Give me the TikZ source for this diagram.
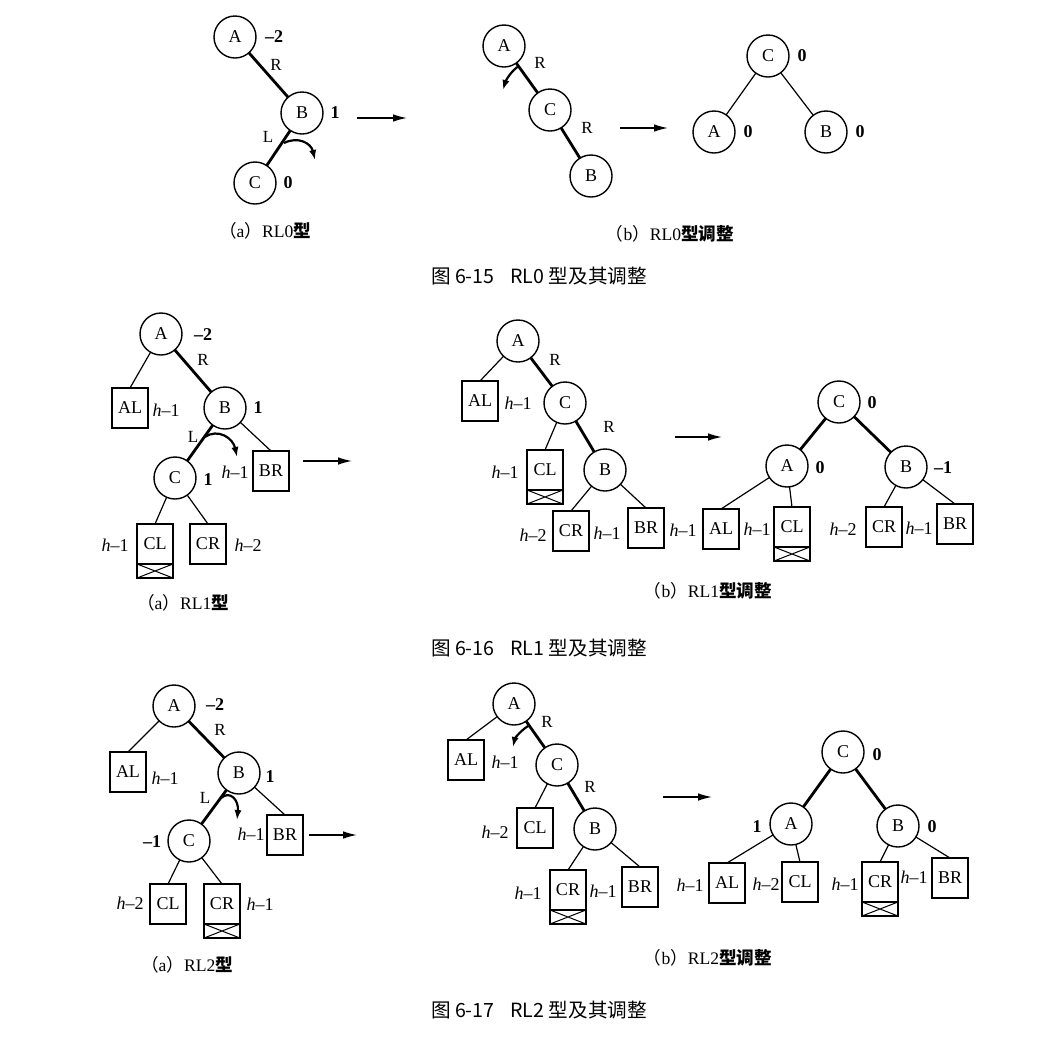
\documentclass[tikz,border=0pt]{standalone}
\usepackage{fontspec}
\setmainfont{Liberation Serif}
\newfontfamily\cjk{Noto Sans CJK SC}
\usetikzlibrary{positioning}
\usetikzlibrary{arrows.meta}
\usetikzlibrary{calc}

\tikzset{
  vtx/.style={circle, draw, line width=0.7pt, minimum size=21pt, inner sep=0pt, outer sep=0pt, font=\fontsize{9}{10}\selectfont},
  sub/.style={rectangle, draw, line width=0.7pt, minimum width=18pt, minimum height=20pt, inner sep=0pt, outer sep=0pt, font=\fontsize{9}{10}\selectfont},
  xbox/.style={rectangle, draw, line width=0.9pt, minimum width=18pt, minimum height=7pt, inner sep=0pt, outer sep=0pt,
    path picture={\draw[line width=0.5pt] (path picture bounding box.north west) -- (path picture bounding box.south east)
      (path picture bounding box.south west) -- (path picture bounding box.north east);}},
  bal/.style={font=\fontsize{9}{10}\selectfont\bfseries, inner sep=0pt},
  hgt/.style={font=\fontsize{9}{10}\selectfont, inner sep=0pt},
  dir/.style={font=\fontsize{8.5}{10}\selectfont, inner sep=0pt},
  link/.style={line width=0.6pt},
  heavy/.style={line width=1.4pt},
  turn/.style={line width=1.1pt, -{Latex[length=5pt,width=3.6pt]}},
  goon/.style={line width=0.7pt, -{Latex[length=7pt,width=3.8pt]}},
  subcap/.style={font=\fontsize{8.8}{10}\selectfont},
  figcap/.style={font=\cjk\fontsize{9.8}{11}\selectfont},
}
\newcommand\hm[1]{\textit{h}--#1}

\begin{document}
\begin{tikzpicture}[x=0.5pt,y=-0.5pt]
\useasboundingbox (0,0) rectangle (1044,1045);

% ---- figure 6-15 : RL0 ----
\node[vtx] (r0aA) at (235,37) {A};
\node[vtx] (r0aB) at (302,113) {B};
\node[vtx] (r0aC) at (255,183) {C};
\node[bal] (r0aAf) at (274,37) {--2};
\node[bal] (r0aBf) at (335,113) {1};
\node[bal] (r0aCf) at (288,183) {0};
\node[dir] (r0aR) at (276,65) {R};
\node[dir] (r0aL) at (268,137) {L};
\draw[heavy] (r0aA) -- (r0aB);
\draw[heavy] (r0aB) -- (r0aC);
\coordinate (r0aT1) at (284,143);
\coordinate (r0aT2) at (315,160);
\draw[turn] (r0aT1) .. controls (298,136) and (311,143) .. (r0aT2);
\coordinate (r0go1) at (357,118);
\coordinate (r0go2) at (407,118);
\draw[goon] (r0go1) -- (r0go2);
\node[subcap] (r0acap) at (265,231) {{\cjk （}a{\cjk ）}RL0{\cjk\bfseries 型}};

\node[vtx] (r0bA) at (504,46) {A};
\node[vtx] (r0bC) at (550,110) {C};
\node[vtx] (r0bB) at (591,176) {B};
\node[dir] (r0bR1) at (540,63) {R};
\node[dir] (r0bR2) at (587,128) {R};
\draw[heavy] (r0bA) -- (r0bC);
\draw[heavy] (r0bC) -- (r0bB);
\coordinate (r0bT1) at (519,66);
\coordinate (r0bT2) at (503,90);
\draw[turn] (r0bT1) .. controls (512,70) and (506,80) .. (r0bT2);
\coordinate (r0go3) at (620,128);
\coordinate (r0go4) at (668,128);
\draw[goon] (r0go3) -- (r0go4);

\node[vtx] (r0cC) at (768,56) {C};
\node[vtx] (r0cA) at (714,132) {A};
\node[vtx] (r0cB) at (826,132) {B};
\node[bal] (r0cCf) at (802,56) {0};
\node[bal] (r0cAf) at (748,132) {0};
\node[bal] (r0cBf) at (860,132) {0};
\draw[link] (r0cC) -- (r0cA);
\draw[link] (r0cC) -- (r0cB);
\node[subcap] (r0bcap) at (670,234) {{\cjk （}b{\cjk ）}RL0{\cjk\bfseries 型调整}};
\node[figcap] (r0fig) at (539,276) {图 6-15\hspace{8pt}RL0 型及其调整};

% ---- figure 6-16 : RL1 ----
\node[vtx] (r1aA) at (161,334) {A};
\node[vtx] (r1aB) at (225,408) {B};
\node[vtx] (r1aC) at (175,478) {C};
\node[sub] (r1aAL) at (130,408) {AL};
\node[sub] (r1aBR) at (271,471) {BR};
\node[sub] (r1aCL) at (155,544) {CL};
\node[xbox, below=0pt of r1aCL] (r1aCLx) {};
\node[sub] (r1aCR) at (208,544) {CR};
\node[bal] (r1aAf) at (203,335) {--2};
\node[bal] (r1aBf) at (258,408) {1};
\node[bal] (r1aCf) at (208,480) {1};
\node[dir] (r1aR) at (203,360) {R};
\node[dir] (r1aL) at (193,437) {L};
\node[hgt] (r1aALh) at (166,410) {\hm1};
\node[hgt] (r1aBRh) at (235,472) {\hm1};
\node[hgt] (r1aCLh) at (115,545) {\hm1};
\node[hgt] (r1aCRh) at (248,545) {\hm2};
\draw[link] (r1aA) -- (r1aAL.north);
\draw[heavy] (r1aA) -- (r1aB);
\draw[heavy] (r1aB) -- (r1aC);
\draw[link] (r1aB) -- (r1aBR.north);
\draw[link] (r1aC) -- (r1aCL.north);
\draw[link] (r1aC) -- (r1aCR.north);
\coordinate (r1aT1) at (205,437);
\coordinate (r1aT2) at (237,457);
\draw[turn] (r1aT1) .. controls (218,428) and (233,438) .. (r1aT2);
\coordinate (r1go1) at (303,461);
\coordinate (r1go2) at (352,461);
\draw[goon] (r1go1) -- (r1go2);
\node[subcap] (r1acap) at (183,603) {{\cjk （}a{\cjk ）}RL1{\cjk\bfseries 型}};

\node[vtx] (r1bA) at (518,341) {A};
\node[vtx] (r1bC) at (565,403) {C};
\node[vtx] (r1bB) at (605,470) {B};
\node[sub] (r1bAL) at (480,401) {AL};
\node[sub] (r1bCL) at (545,470) {CL};
\node[xbox, below=0pt of r1bCL] (r1bCLx) {};
\node[sub] (r1bCR) at (571,531) {CR};
\node[sub] (r1bBR) at (646,528) {BR};
\node[dir] (r1bR1) at (555,360) {R};
\node[dir] (r1bR2) at (609,427) {R};
\node[hgt] (r1bALh) at (518,403) {\hm1};
\node[hgt] (r1bCLh) at (505,472) {\hm1};
\node[hgt] (r1bCRh) at (533,535) {\hm2};
\node[hgt] (r1bBRh) at (607,533) {\hm1};
\draw[link] (r1bA) -- (r1bAL.north);
\draw[heavy] (r1bA) -- (r1bC);
\draw[link] (r1bC) -- (r1bCL.north);
\draw[heavy] (r1bC) -- (r1bB);
\draw[link] (r1bB) -- (r1bCR.north);
\draw[link] (r1bB) -- (r1bBR.north);
\coordinate (r1go3) at (675,437);
\coordinate (r1go4) at (722,437);
\draw[goon] (r1go3) -- (r1go4);

\node[vtx] (r1cC) at (839,402) {C};
\node[vtx] (r1cA) at (787,466) {A};
\node[vtx] (r1cB) at (906,467) {B};
\node[sub] (r1cAL) at (721,529) {AL};
\node[sub] (r1cCL) at (792,527) {CL};
\node[xbox, below=0pt of r1cCL] (r1cCLx) {};
\node[sub] (r1cCR) at (884,527) {CR};
\node[sub] (r1cBR) at (955,524) {BR};
\node[bal] (r1cCf) at (872,403) {0};
\node[bal] (r1cAf) at (820,468) {0};
\node[bal] (r1cBf) at (943,468) {--1};
\node[hgt] (r1cALh) at (683,530) {\hm1};
\node[hgt] (r1cCLh) at (757,529) {\hm1};
\node[hgt] (r1cCRh) at (843,529) {\hm2};
\node[hgt] (r1cBRh) at (919,528) {\hm1};
\draw[heavy] (r1cC) -- (r1cA);
\draw[heavy] (r1cC) -- (r1cB);
\draw[link] (r1cA) -- (r1cAL.north);
\draw[link] (r1cA) -- (r1cCL.north);
\draw[link] (r1cB) -- (r1cCR.north);
\draw[link] (r1cB) -- (r1cBR.north);
\node[subcap] (r1bcap) at (708,591) {{\cjk （}b{\cjk ）}RL1{\cjk\bfseries 型调整}};
\node[figcap] (r1fig) at (539,648) {图 6-16\hspace{8pt}RL1 型及其调整};

% ---- figure 6-17 : RL2 ----
\node[vtx] (r2aA) at (174,706) {A};
\node[vtx] (r2aB) at (239,773) {B};
\node[vtx] (r2aC) at (189,841) {C};
\node[sub] (r2aAL) at (128,772) {AL};
\node[sub] (r2aBR) at (285,835) {BR};
\node[sub] (r2aCL) at (168,904) {CL};
\node[sub] (r2aCR) at (222,904) {CR};
\node[xbox, below=0pt of r2aCR] (r2aCRx) {};
\node[bal] (r2aAf) at (215,705) {--2};
\node[bal] (r2aBf) at (270,777) {1};
\node[bal] (r2aCf) at (152,842) {--1};
\node[dir] (r2aR) at (220,730) {R};
\node[dir] (r2aL) at (205,798) {L};
\node[hgt] (r2aALh) at (165,778) {\hm1};
\node[hgt] (r2aBRh) at (251,834) {\hm1};
\node[hgt] (r2aCLh) at (130,903) {\hm2};
\node[hgt] (r2aCRh) at (260,904) {\hm1};
\draw[link] (r2aA) -- (r2aAL.north);
\draw[heavy] (r2aA) -- (r2aB);
\draw[heavy] (r2aB) -- (r2aC);
\draw[link] (r2aB) -- (r2aBR.north);
\draw[link] (r2aC) -- (r2aCL.north);
\draw[link] (r2aC) -- (r2aCR.north);
\coordinate (r2aT1) at (221,798);
\coordinate (r2aT2) at (237,820);
\draw[turn] (r2aT1) .. controls (230,790) and (239,800) .. (r2aT2);
\coordinate (r2go1) at (309,835);
\coordinate (r2go2) at (357,835);
\draw[goon] (r2go1) -- (r2go2);
\node[subcap] (r2acap) at (187,965) {{\cjk （}a{\cjk ）}RL2{\cjk\bfseries 型}};

\node[vtx] (r2bA) at (514,704) {A};
\node[vtx] (r2bC) at (557,765) {C};
\node[vtx] (r2bB) at (595,829) {B};
\node[sub] (r2bAL) at (466,760) {AL};
\node[sub] (r2bCL) at (535,828) {CL};
\node[sub] (r2bCR) at (568,890) {CR};
\node[xbox, below=0pt of r2bCR] (r2bCRx) {};
\node[sub] (r2bBR) at (640,887) {BR};
\node[dir] (r2bR1) at (547,722) {R};
\node[dir] (r2bR2) at (590,787) {R};
\node[hgt] (r2bALh) at (505,762) {\hm1};
\node[hgt] (r2bCLh) at (495,832) {\hm2};
\node[hgt] (r2bCRh) at (528,893) {\hm1};
\node[hgt] (r2bBRh) at (603,891) {\hm1};
\draw[link] (r2bA) -- (r2bAL.north);
\draw[heavy] (r2bA) -- (r2bC);
\draw[link] (r2bC) -- (r2bCL.north);
\draw[heavy] (r2bC) -- (r2bB);
\draw[link] (r2bB) -- (r2bCR.north);
\draw[link] (r2bB) -- (r2bBR.north);
\coordinate (r2bT1) at (530,725);
\coordinate (r2bT2) at (513,747);
\draw[turn] (r2bT1) .. controls (522,729) and (515,738) .. (r2bT2);
\coordinate (r2go3) at (663,797);
\coordinate (r2go4) at (712,797);
\draw[goon] (r2go3) -- (r2go4);

\node[vtx] (r2cC) at (843,752) {C};
\node[vtx] (r2cA) at (791,824) {A};
\node[vtx] (r2cB) at (898,826) {B};
\node[sub] (r2cAL) at (727,883) {AL};
\node[sub] (r2cCL) at (800,882) {CL};
\node[sub] (r2cCR) at (880,882) {CR};
\node[xbox, below=0pt of r2cCR] (r2cCRx) {};
\node[sub] (r2cBR) at (950,878) {BR};
\node[bal] (r2cCf) at (877,755) {0};
\node[bal] (r2cAf) at (757,827) {1};
\node[bal] (r2cBf) at (932,827) {0};
\node[hgt] (r2cALh) at (690,885) {\hm1};
\node[hgt] (r2cCLh) at (766,884) {\hm2};
\node[hgt] (r2cCRh) at (845,884) {\hm1};
\node[hgt] (r2cBRh) at (914,877) {\hm1};
\draw[heavy] (r2cC) -- (r2cA);
\draw[heavy] (r2cC) -- (r2cB);
\draw[link] (r2cA) -- (r2cAL.north);
\draw[link] (r2cA) -- (r2cCL.north);
\draw[link] (r2cB) -- (r2cCR.north);
\draw[link] (r2cB) -- (r2cBR.north);
\node[subcap] (r2bcap) at (708,958) {{\cjk （}b{\cjk ）}RL2{\cjk\bfseries 型调整}};
\node[figcap] (r2fig) at (539,1010) {图 6-17\hspace{8pt}RL2 型及其调整};
\end{tikzpicture}
\end{document}
